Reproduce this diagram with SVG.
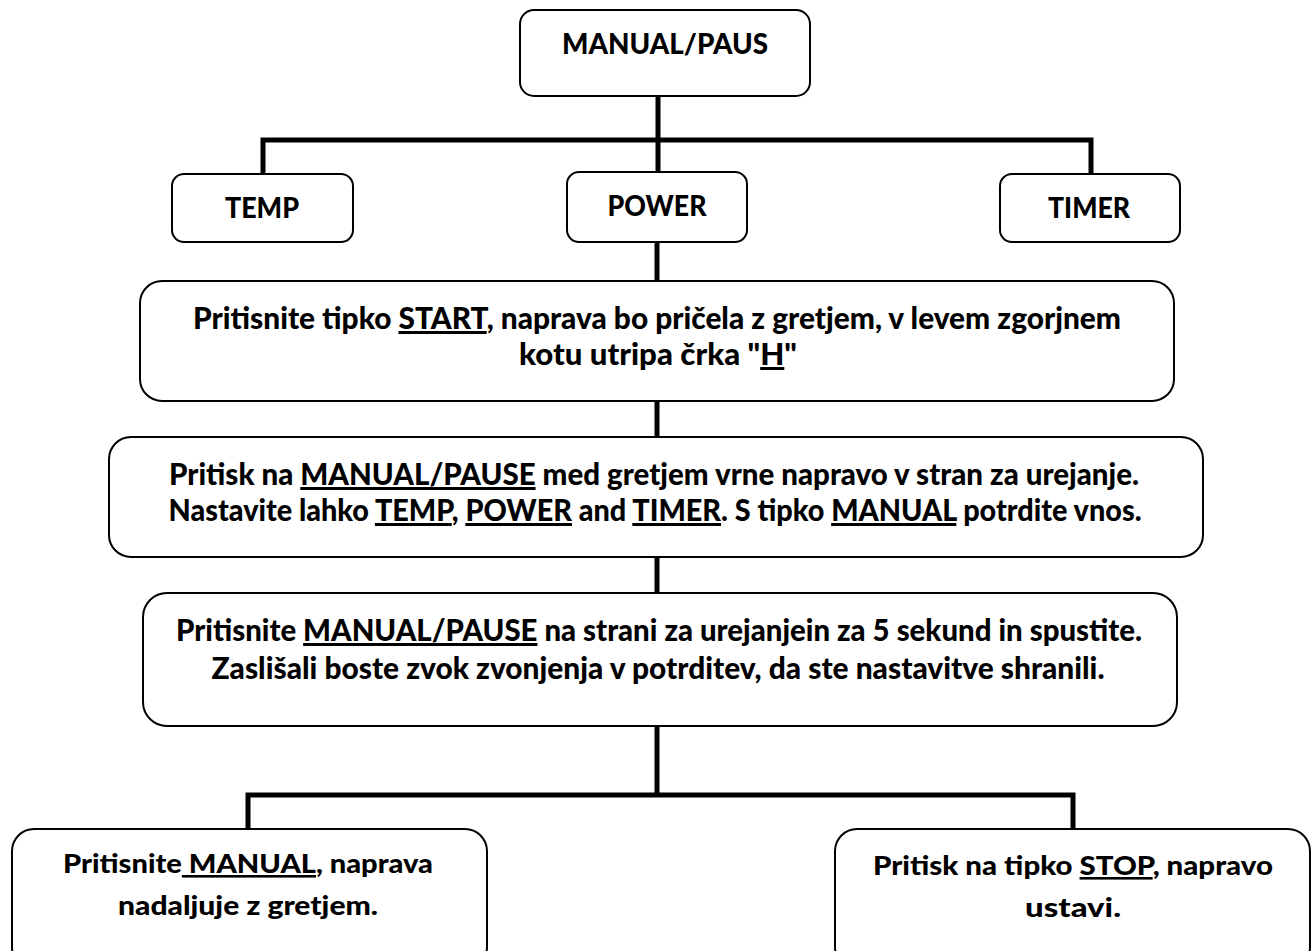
<svg xmlns="http://www.w3.org/2000/svg" width="1311" height="951" viewBox="0 0 1311 951">
<style>
.box{fill:#fff;stroke:#000;stroke-width:2}
.con{fill:none;stroke:#000;stroke-width:5}
text{font-family:Lato,"Open Sans","Liberation Sans",sans-serif;font-weight:900;fill:#000;text-anchor:middle}
.t1{font-size:28px}
.t2{font-size:30px}
.t3{font-size:26px}
.u{text-decoration:underline}
</style>
<rect width="1311" height="951" fill="#fff"/>
<g id="connectors">
<path class="con" d="M658 96V172"/>
<path class="con" d="M263 174V140H1091V174"/>
<path class="con" d="M657 242V281"/>
<path class="con" d="M657 401V437"/>
<path class="con" d="M657 557V593"/>
<path class="con" d="M657 726V795"/>
<path class="con" d="M248 829V795H1073V829"/>
</g>
<g id="n-manual">
<rect class="box" x="520" y="10" width="290" height="86" rx="14"/>
<text class="t1" x="665" y="54" textLength="206" lengthAdjust="spacingAndGlyphs">MANUAL/PAUS</text>
</g>
<g id="n-temp">
<rect class="box" x="172" y="174" width="181" height="68" rx="12"/>
<text class="t1" x="262" y="218" textLength="74" lengthAdjust="spacingAndGlyphs">TEMP</text>
</g>
<g id="n-power">
<rect class="box" x="567" y="172" width="180" height="70" rx="12"/>
<text class="t1" x="657" y="216" textLength="99" lengthAdjust="spacingAndGlyphs">POWER</text>
</g>
<g id="n-timer">
<rect class="box" x="1000" y="174" width="180" height="68" rx="12"/>
<text class="t1" x="1089" y="218" textLength="82" lengthAdjust="spacingAndGlyphs">TIMER</text>
</g>
<g id="n-start">
<rect class="box" x="140" y="281" width="1034" height="120" rx="22"/>
<text class="t2" x="657" y="329" textLength="928" lengthAdjust="spacingAndGlyphs">Pritisnite tipko <tspan class="u">START</tspan>, naprava bo pričela z gretjem, v levem zgorjnem</text>
<text class="t2" x="658" y="365" textLength="278" lengthAdjust="spacingAndGlyphs">kotu utripa črka "<tspan class="u">H</tspan>"</text>
</g>
<g id="n-edit">
<rect class="box" x="109" y="437" width="1094" height="120" rx="22"/>
<text class="t2" x="654" y="485" textLength="970" lengthAdjust="spacingAndGlyphs">Pritisk na <tspan class="u">MANUAL/PAUSE</tspan> med gretjem vrne napravo v stran za urejanje.</text>
<text class="t2" x="655" y="521" textLength="973" lengthAdjust="spacingAndGlyphs">Nastavite lahko <tspan class="u">TEMP</tspan>, <tspan class="u">POWER</tspan> and <tspan class="u">TIMER</tspan>. S tipko <tspan class="u">MANUAL</tspan> potrdite vnos.</text>
</g>
<g id="n-save">
<rect class="box" x="143" y="593" width="1034" height="133" rx="24"/>
<text class="t2" x="659" y="641" textLength="966" lengthAdjust="spacingAndGlyphs">Pritisnite <tspan class="u">MANUAL/PAUSE</tspan> na strani za urejanjein za 5 sekund in spustite.</text>
<text class="t2" x="658" y="679" textLength="893" lengthAdjust="spacingAndGlyphs">Zaslišali boste zvok zvonjenja v potrditev, da ste nastavitve shranili.</text>
</g>
<g id="n-continue">
<rect class="box" x="12" y="829" width="475" height="140" rx="22"/>
<text class="t3" x="248" y="873" textLength="370" lengthAdjust="spacingAndGlyphs">Pritisnite<tspan class="u"> MANUAL</tspan>, naprava</text>
<text class="t3" x="248" y="915" textLength="260" lengthAdjust="spacingAndGlyphs">nadaljuje z gretjem.</text>
</g>
<g id="n-stop">
<rect class="box" x="835" y="829" width="475" height="140" rx="22"/>
<text class="t3" x="1073" y="875" textLength="400" lengthAdjust="spacingAndGlyphs">Pritisk na tipko <tspan class="u">STOP</tspan>, napravo</text>
<text class="t3" x="1073" y="917" textLength="96" lengthAdjust="spacingAndGlyphs">ustavi.</text>
</g>
</svg>
